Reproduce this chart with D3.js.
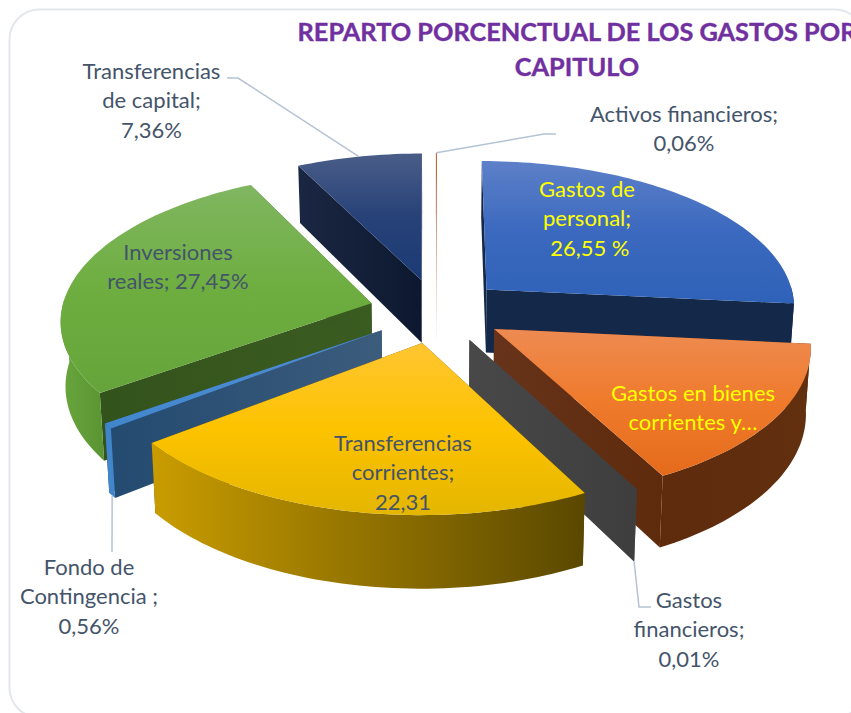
<!DOCTYPE html>
<html>
<head>
<meta charset="utf-8">
<script src="https://cdn.jsdelivr.net/npm/d3@7"></script>
<style>
  body { margin: 0; background: #fff; overflow: hidden; }
  text { font-family: Lato, "Open Sans", sans-serif; }
</style>
</head>
<body>
<script>
// Chart data
const categories = ['Gastos de personal', 'Gastos en bienes corrientes y servicios', 'Gastos financieros', 'Transferencias corrientes', 'Fondo de Contingencia', 'Inversiones reales', 'Transferencias de capital', 'Activos financieros']
const values = [26.55, 15.7, 0.01, 22.31, 0.56, 27.45, 7.36, 0.06]
const titleLines = ['REPARTO PORCENCTUAL DE LOS GASTOS POR', 'CAPITULO']
const labelLines = [
  ['Gastos de', 'personal;', ' 26,55 %'],
  ['Gastos en bienes', 'corrientes y…'],
  ['Gastos', 'financieros;', '0,01%'],
  ['Transferencias', 'corrientes;', '22,31'],
  ['Fondo de', 'Contingencia ;', '0,56%'],
  ['Inversiones', 'reales; 27,45%'],
  ['Transferencias', 'de capital;', '7,36%'],
  ['Activos financieros;', '0,06%']
]

// Layout of the 3d pie
const width = 851
const height = 713
const cx = 437
const cy = 310.8
const radiusX = 310
const radiusZ = 146.5
const perspective = 0.1068
const thickness = 64
const bottomShrink = 0.987
const explode = 0.219
const lineHeight = 29.3

// Label anchors, x is the centre of the text and y the first baseline
const labelPos = [
  {x: 587, y: 197, fill: '#ffff00'},
  {x: 693, y: 401, fill: '#ffff00'},
  {x: 689, y: 608, fill: '#44546a'},
  {x: 403, y: 451, fill: '#44546a'},
  {x: 89, y: 575, fill: '#44546a'},
  {x: 178, y: 260, fill: '#44546a'},
  {x: 151.5, y: 79, fill: '#44546a'},
  {x: 684, y: 122, fill: '#44546a'}
]

// Leader lines, elbows run from the label towards the slice rim
const leaders = [
  {i: 2, bottom: true, elbow: [[651, 607], [639, 607]]},
  {i: 4, bottom: true, elbow: [[112, 552]]},
  {i: 6, bottom: false, elbow: [[227, 78], [238, 78]]},
  {i: 7, bottom: false, elbow: [[556, 134], [544, 134]]}
]

// Slice colours: top face stops, rim stops (left to right), cut face stops
const sliceStyle = [
  {top: ['#5d80c8', '#3b69bf', '#2e62b8'], rim: ['#14284a', '#14284a'], cut: ['#14284a', '#14284a']},
  {top: ['#ee8b52', '#ef7a2b', '#e56b1c'], rim: ['#5e2b0d', '#62300f'], cut: ['#67331a', '#5e2b0d']},
  {top: ['#444444', '#444444', '#444444'], rim: ['#444444', '#444444'], cut: ['#484848', '#3e3e3e']},
  {top: ['#ffc532', '#fdc300', '#e4b600'], rim: ['#c99c00', '#5a4800'], cut: ['#5a4800', '#5a4800']},
  {top: ['#4a8bd0', '#4a8bd0', '#4186cb'], rim: ['#4186cb', '#4186cb'], cut: ['#234a70', '#3c5c7c']},
  {top: ['#80b661', '#6eae40', '#64a43a'], rim: ['#68a63d', '#5a9433'], cut: ['#33531c', '#3b5c21']},
  {top: ['#4a5d88', '#274278', '#1b3a74'], rim: ['#1a2640', '#0d1830'], cut: ['#1b2742', '#0d1830']},
  {top: ['#b5562a', '#b5562a', '#b5562a'], rim: ['#b8b8b8', '#b8b8b8'], cut: ['#b5562a', '#d9c8c0']}
]

const svg = d3.select('body')
  .append('svg')
  .attr('width', width)
  .attr('height', height)

const defs = svg.append('defs')

function addGradient(id, stops, horizontal) {
  const g = defs.append('linearGradient')
    .attr('id', id)
    .attr('x1', 0).attr('y1', 0)
    .attr('x2', horizontal ? 1 : 0).attr('y2', horizontal ? 0 : 1)
  stops.forEach((c, i) => {
    g.append('stop')
      .attr('offset', i / (stops.length - 1))
      .attr('stop-color', c)
  })
}

// Scales from pie units to screen, before perspective
const xScale = d3.scaleLinear().domain([-1, 1]).range([cx - radiusX, cx + radiusX])
const zScale = d3.scaleLinear().domain([-1, 1]).range([cy - radiusZ, cy + radiusZ])

// Pie units: x to the right, z towards the viewer
function project(x, z, bottom) {
  const p = 1 / (1 - perspective * z)
  const sx = cx + (xScale(x) - cx) * p
  const sy = cy + (zScale(z) - cy) * p
  if (!bottom) return [sx, sy]
  return [cx + (sx - cx) * bottomShrink, sy + thickness * p]
}

// World position of a slice point, r is 0 at the apex and 1 on the rim
function slicePoint(d, angle, r) {
  const mid = (d.startAngle + d.endAngle) / 2
  return [
    explode * Math.sin(mid) + r * Math.sin(angle),
    -explode * Math.cos(mid) - r * Math.cos(angle)
  ]
}

const line = d3.line()

function arcAngles(d) {
  const n = Math.max(2, Math.ceil((d.endAngle - d.startAngle) * 40))
  return d3.range(n + 1).map(i => d.startAngle + (d.endAngle - d.startAngle) * i / n)
}

function arcPoints(d, bottom) {
  return arcAngles(d).map(a => project(...slicePoint(d, a, 1), bottom))
}

// Only the part of the rim that faces the viewer
function rimPath(d) {
  const front = arcAngles(d).filter(a => Math.cos(a) < 0.05)
  if (front.length < 2) return null
  const top = front.map(a => project(...slicePoint(d, a, 1), false))
  const bottom = front.map(a => project(...slicePoint(d, a, 1), true))
  return line(top.concat(bottom.reverse())) + 'Z'
}

function cutPath(d, angle) {
  return line([
    project(...slicePoint(d, angle, 0), false),
    project(...slicePoint(d, angle, 1), false),
    project(...slicePoint(d, angle, 1), true),
    project(...slicePoint(d, angle, 0), true)
  ]) + 'Z'
}

const pie = d3.pie().sort(null).value(d => d)
const slices = pie(values).map((d, i) => ({...d, i}))

// Draw back to front, by depth of the exploded apex
const drawOrder = slices.slice().sort((a, b) =>
  slicePoint(a, a.startAngle, 0)[1] - slicePoint(b, b.startAngle, 0)[1])

// Card border
svg.append('rect')
  .attr('x', 9.5)
  .attr('y', 9.5)
  .attr('width', 855)
  .attr('height', 708)
  .attr('rx', 30)
  .attr('fill', '#fff')
  .attr('stroke', '#e3e7ec')
  .attr('stroke-width', 2)

const gPie = svg.append('g')

drawOrder.forEach(d => {
  const st = sliceStyle[d.i]
  addGradient(`top${d.i}`, st.top, false)
  addGradient(`rim${d.i}`, st.rim, true)
  addGradient(`cut${d.i}`, st.cut, true)

  const g = gPie.append('g').attr('class', 'slice')

  // Cut faces, both sides, the top face hides the one facing away
  g.selectAll('.cut')
    .data([d.startAngle, d.endAngle])
    .join('path')
    .attr('class', 'cut')
    .attr('d', a => cutPath(d, a))
    .attr('fill', `url(#cut${d.i})`)

  // Outer rim
  const rim = rimPath(d)
  if (rim) {
    g.append('path')
      .attr('d', rim)
      .attr('fill', `url(#rim${d.i})`)
  }

  // Top face
  g.append('path')
    .attr('d', line([project(...slicePoint(d, d.startAngle, 0), false)].concat(arcPoints(d, false))) + 'Z')
    .attr('fill', `url(#top${d.i})`)
})

// Leader lines
svg.append('g')
  .selectAll('path')
  .data(leaders)
  .join('path')
  .attr('d', l => {
    const d = slices[l.i]
    const mid = (d.startAngle + d.endAngle) / 2
    return line(l.elbow.concat([project(...slicePoint(d, mid, 1), l.bottom)]))
  })
  .attr('fill', 'none')
  .attr('stroke', '#b5c3d5')
  .attr('stroke-width', 1.5)

// Data labels
const labels = svg.append('g')
  .selectAll('text')
  .data(labelLines)
  .join('text')
  .attr('text-anchor', 'middle')
  .attr('font-size', 22)
  .attr('fill', (d, i) => labelPos[i].fill)
  .style('white-space', 'pre')

labels.selectAll('tspan')
  .data((d, i) => d.map((t, j) => ({t, x: labelPos[i].x, y: labelPos[i].y + j * lineHeight})))
  .join('tspan')
  .attr('x', d => d.x)
  .attr('y', d => d.y)
  .text(d => d.t)

// Title, runs off the right edge like the original
svg.append('g')
  .selectAll('text')
  .data(titleLines)
  .join('text')
  .attr('x', 577)
  .attr('y', (d, i) => 41 + i * 35)
  .attr('text-anchor', 'middle')
  .attr('font-size', 25.3)
  .attr('font-weight', 700)
  .attr('fill', '#7030a0')
  .attr('stroke', '#7030a0')
  .attr('stroke-width', 0.4)
  .text(d => d)
</script>
</body>
</html>
